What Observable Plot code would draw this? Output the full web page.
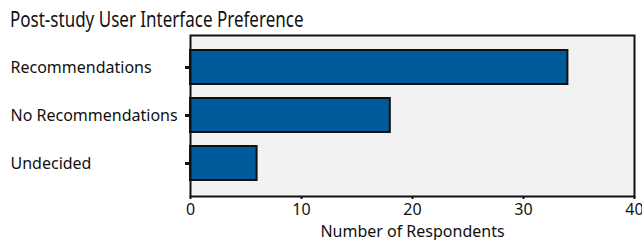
<!DOCTYPE html>
<html><head><meta charset="utf-8">
<script src="https://cdn.jsdelivr.net/npm/d3@7"></script>
<script src="https://cdn.jsdelivr.net/npm/@observablehq/plot@0.6"></script>
<style>
body{margin:0;background:#fff;font-family:"Noto Sans",sans-serif;position:relative;width:642px;height:240px;overflow:hidden;}
#title{position:absolute;left:10px;top:4px;font-size:21px;line-height:30px;color:#111;white-space:nowrap;display:inline-block;transform:scaleX(0.81);transform-origin:0 0;}
#chart{position:absolute;left:0;top:30px;}
</style></head>
<body>
<div id="title">Post-study User Interface Preference</div>
<div id="chart"></div>
<script>
const categories = ["Recommendations", "No Recommendations", "Undecided"];
const respondents = [34, 18, 6];
const xTicks = [0, 10, 20, 30, 40];

const data = categories.map((c, i) => ({category: c, value: respondents[i]}));

const chart = Plot.plot({
  width: 642,
  height: 210,
  marginTop: 5,
  marginBottom: 44,
  marginLeft: 190,
  marginRight: 8,
  style: {fontFamily: "Noto Sans, sans-serif", fontSize: "16px", color: "#111", background: "transparent", overflow: "visible"},
  x: {domain: [0, 40], ticks: xTicks, label: "Number of Respondents"},
  y: {domain: categories, padding: 0.29, label: null},
  marks: [
    Plot.frame({fill: "#f2f2f2", stroke: "none"}),
    Plot.barX(data, {x: "value", y: "category", fill: "#005b9a", stroke: "#111", strokeWidth: 2}),
    Plot.frame({stroke: "#111", strokeWidth: 2}),
    Plot.axisY({tickSize: 5, strokeWidth: 3, tickPadding: 175, textAnchor: "start", fontSize: 16, label: null}),
    Plot.axisX({ticks: xTicks, tickSize: 3, strokeWidth: 2, tickPadding: 4, fontSize: 16, label: null}),
    Plot.text(["Number of Respondents"], {frameAnchor: "bottom", dy: 40, fontSize: 16, fill: "#111"})
  ]
});
document.getElementById("chart").appendChild(chart);
</script>
</body></html>
